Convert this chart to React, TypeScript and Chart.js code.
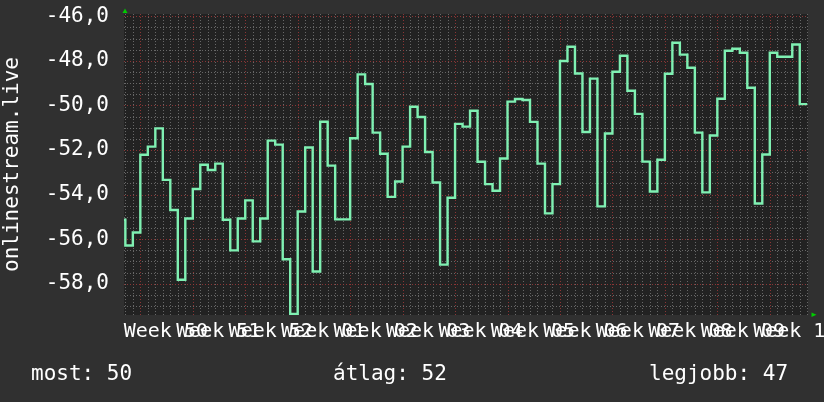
import React, { useEffect, useRef } from 'react';
import { Chart, registerables } from 'chart.js';

Chart.register(...registerables);

// ---- data ----
// daily averages; index i covers day (firstDay + i) .. (firstDay + i + 1), day 0 = start of Week 50
const firstDay = -3;
const values: number[] = [
  -55.13, -56.28, -55.70, -52.21, -51.85, -51.03, -53.34, -54.69, -57.82, -55.07,
  -53.75, -52.66, -52.90, -52.61, -55.13, -56.50, -55.07, -54.26, -56.10, -55.07,
  -51.58, -51.76, -56.90, -59.35, -54.76, -51.89, -57.45, -50.73, -52.70, -55.11,
  -55.11, -51.47, -48.61, -49.04, -51.22, -52.17, -54.10, -53.41, -51.85, -50.06,
  -50.52, -52.09, -53.46, -57.14, -54.14, -50.83, -50.95, -50.24, -52.53, -53.53,
  -53.83, -52.38, -49.83, -49.71, -49.76, -50.74, -52.61, -54.84, -53.53, -48.01,
  -47.37, -48.57, -51.19, -48.80, -54.53, -51.26, -48.49, -47.77, -49.34, -50.38,
  -52.52, -53.86, -52.44, -48.58, -47.19, -47.72, -48.31, -51.22, -53.90, -51.35,
  -49.70, -47.55, -47.46, -47.64, -49.21, -54.40, -52.20, -47.64, -47.82, -47.82,
  -47.27, -49.94,
];
const weekLabels: string[] = [
  'Week 50', 'Week 51', 'Week 52', 'Week 01', 'Week 02', 'Week 03', 'Week 04',
  'Week 05', 'Week 06', 'Week 07', 'Week 08', 'Week 09', 'Week 10',
];
const yTitle = 'onlinestream.live';
const legendNames: string[] = ['most', 'átlag', 'legjobb'];
const legendValues: string[] = ['50', '52', '47'];

// ---- scale settings ----
const X_MIN = -2.18;
const X_MAX = 89.1;
const Y_MIN = -59.4;
const Y_MAX = -45.9;
const DAYS_PER_WEEK = 7;

const FONT_FAMILY = '"DejaVu Sans Mono", monospace';
const BG = '#303030';
const CANVAS_BG = '#222222';
const MINOR = 'rgba(115,115,115,0.85)';
const MAJOR = 'rgba(150,55,55,0.9)';
const LINE = '#7ff0b2';
const ARROW = '#00cc00';

const isMajorY = (v: number) => Math.abs(v % 2) < 1e-6;
const isMajorX = (v: number) => Math.abs(v % DAYS_PER_WEEK) < 1e-6;

const rrdPlugin = {
  id: 'rrdLook',
  beforeDraw(chart: any) {
    const { ctx, chartArea: a } = chart;
    ctx.save();
    ctx.fillStyle = BG;
    ctx.fillRect(0, 0, chart.width, chart.height);
    ctx.fillStyle = CANVAS_BG;
    ctx.fillRect(a.left, a.top, a.right - a.left, a.bottom - a.top);
    ctx.restore();
  },
  beforeDatasetsDraw(chart: any) {
    const { ctx, chartArea: a, scales } = chart;
    ctx.save();
    ctx.lineWidth = 1;
    ctx.setLineDash([1, 2]);
    const drawPass = (major: boolean) => {
      ctx.strokeStyle = major ? MAJOR : MINOR;
      ctx.beginPath();
      scales.x.ticks.forEach((t: any) => {
        if (isMajorX(t.value) !== major) return;
        const px = Math.round(scales.x.getPixelForValue(t.value)) + 0.5;
        ctx.moveTo(px, a.top);
        ctx.lineTo(px, a.bottom);
      });
      scales.y.ticks.forEach((t: any) => {
        if (isMajorY(t.value) !== major) return;
        const py = Math.round(scales.y.getPixelForValue(t.value)) + 0.5;
        ctx.moveTo(a.left, py);
        ctx.lineTo(a.right, py);
      });
      ctx.stroke();
    };
    drawPass(false);
    drawPass(true);
    ctx.restore();
  },
  afterDraw(chart: any) {
    const { ctx, chartArea: a } = chart;
    ctx.save();
    // arrows
    ctx.fillStyle = ARROW;
    ctx.beginPath();
    ctx.moveTo(a.left - 1.5, a.top - 1);
    ctx.lineTo(a.left + 3.5, a.top - 1);
    ctx.lineTo(a.left + 1, a.top - 5.5);
    ctx.closePath();
    ctx.fill();
    ctx.beginPath();
    ctx.moveTo(a.right + 3.5, a.bottom - 2.5);
    ctx.lineTo(a.right + 3.5, a.bottom + 2);
    ctx.lineTo(a.right + 8.5, a.bottom - 0.25);
    ctx.closePath();
    ctx.fill();
    // legend line
    ctx.fillStyle = '#ffffff';
    ctx.font = '21px ' + FONT_FAMILY;
    ctx.textBaseline = 'alphabetic';
    ctx.textAlign = 'left';
    const xs = [31, 333, 649];
    legendNames.forEach((n, i) => {
      ctx.fillText(n + ': ' + legendValues[i], xs[i], 380);
    });
    ctx.restore();
  },
};

export default function App() {
  const ref = useRef<HTMLCanvasElement | null>(null);

  useEffect(() => {
    if (!ref.current) return;
    const points = values.map((v, i) => ({ x: firstDay + i, y: v }));
    points.push({ x: firstDay + values.length, y: values[values.length - 1] });

    const dayTicks: number[] = [];
    for (let d = Math.ceil(X_MIN); d <= Math.floor(X_MAX); d++) dayTicks.push(d);
    const yTicks: number[] = [];
    for (let v = Math.ceil(Y_MIN * 2) / 2; v <= Y_MAX + 1e-9; v += 0.5) yTicks.push(v);

    const chart = new Chart(ref.current, {
      type: 'line',
      data: {
        datasets: [
          {
            data: points,
            borderColor: LINE,
            borderWidth: 2.4,
            pointRadius: 0,
            stepped: true,
            fill: false,
          },
        ],
      },
      plugins: [rrdPlugin],
      options: {
        animation: false,
        responsive: false,
        devicePixelRatio: 1,
        events: [],
        layout: { padding: { left: 0, right: 16, top: 14, bottom: 0 } },
        plugins: { legend: { display: false }, tooltip: { enabled: false } },
        scales: {
          x: {
            type: 'linear',
            min: X_MIN,
            max: X_MAX,
            afterBuildTicks: (s: any) => {
              s.ticks = dayTicks.map((v) => ({ value: v }));
            },
            afterFit: (s: any) => {
              s.height = 87;
              s.paddingLeft = 0;
              s.paddingRight = 0;
            },
            ticks: {
              autoSkip: false,
              maxRotation: 0,
              minRotation: 0,
              labelOffset: 25.5,
              padding: 5,
              color: '#ffffff',
              font: { family: FONT_FAMILY, size: 20 },
              callback: (v: any) => {
                const n = Number(v);
                if (n >= 0 && isMajorX(n)) {
                  const w = weekLabels[n / DAYS_PER_WEEK];
                  return w ?? '';
                }
                return '';
              },
            },
            grid: { display: false, drawTicks: false },
            border: { display: false },
          },
          y: {
            type: 'linear',
            min: Y_MIN,
            max: Y_MAX,
            afterBuildTicks: (s: any) => {
              s.ticks = yTicks.map((v) => ({ value: v }));
            },
            afterFit: (s: any) => {
              s.width = 124;
              s.paddingTop = 0;
              s.paddingBottom = 0;
            },
            ticks: {
              autoSkip: false,
              padding: 15,
              color: '#ffffff',
              font: { family: FONT_FAMILY, size: 21 },
              callback: (v: any) => {
                const n = Number(v);
                return isMajorY(n) ? n.toFixed(1).replace('.', ',') : '';
              },
            },
            grid: { display: false, drawTicks: false },
            border: { display: false },
            title: {
              display: true,
              text: yTitle,
              color: '#ffffff',
              font: { family: FONT_FAMILY, size: 21 },
              padding: { top: 0, bottom: 0 },
            },
          },
        },
      },
    } as any);
    return () => chart.destroy();
  }, []);

  return (
    <div style={{ position: 'fixed', left: 0, top: 0, width: 824, height: 402, background: BG }}>
      <canvas ref={ref} width={824} height={402} style={{ display: 'block' }} />
    </div>
  );
}
